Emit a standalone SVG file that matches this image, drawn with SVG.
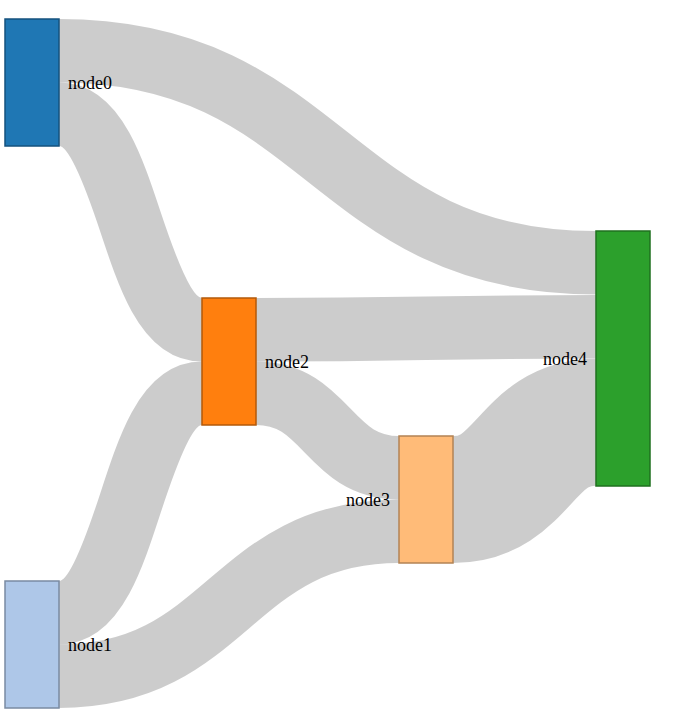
<svg xmlns="http://www.w3.org/2000/svg" width="685" height="727" viewBox="0 0 685 727">
<style>
.link{fill:none;stroke:#000;stroke-opacity:0.2}
.node rect{stroke-width:1.5}
text{font-family:"Liberation Serif",serif;font-size:18px;fill:#000}
</style>
<rect width="685" height="727" fill="#fff"/>
<g id="links">
<path class="link" stroke-width="63.5" d="M59,50.75C327.5,50.75 327.5,262.75 596,262.75"/>
<path class="link" stroke-width="63.5" d="M59,114.25C130.5,114.25 130.5,329.75 202,329.75"/>
<path class="link" stroke-width="63.5" d="M59,612.75C130.5,612.75 130.5,393.25 202,393.25"/>
<path class="link" stroke-width="63.5" d="M59,676.25C229,676.25 229,531.25 399,531.25"/>
<path class="link" stroke-width="63.5" d="M256,329.75C426,329.75 426,326.75 596,326.75"/>
<path class="link" stroke-width="63.5" d="M256,393.25C327.5,393.25 327.5,467.75 399,467.75"/>
<path class="link" stroke-width="127" d="M453,499.5C524.5,499.5 524.5,422.25 596,422.25"/>
</g>
<g id="node0" class="node"><rect x="5" y="19" width="54" height="127" fill="#1f77b4" stroke="#15527e"/><text x="68" y="82.5" dy=".35em">node0</text></g>
<g id="node1" class="node"><rect x="5" y="581" width="54" height="127" fill="#aec7e8" stroke="#7a8ba2"/><text x="68" y="644.5" dy=".35em">node1</text></g>
<g id="node2" class="node"><rect x="202" y="298" width="54" height="127" fill="#ff7f0e" stroke="#b3590a"/><text x="265" y="361.5" dy=".35em">node2</text></g>
<g id="node3" class="node"><rect x="399" y="436" width="54" height="127" fill="#ffbb78" stroke="#b38354"/><text x="390" y="499.5" dy=".35em" text-anchor="end">node3</text></g>
<g id="node4" class="node"><rect x="596" y="231" width="54" height="255" fill="#2ca02c" stroke="#1f701f"/><text x="587" y="358.5" dy=".35em" text-anchor="end">node4</text></g>
</svg>
